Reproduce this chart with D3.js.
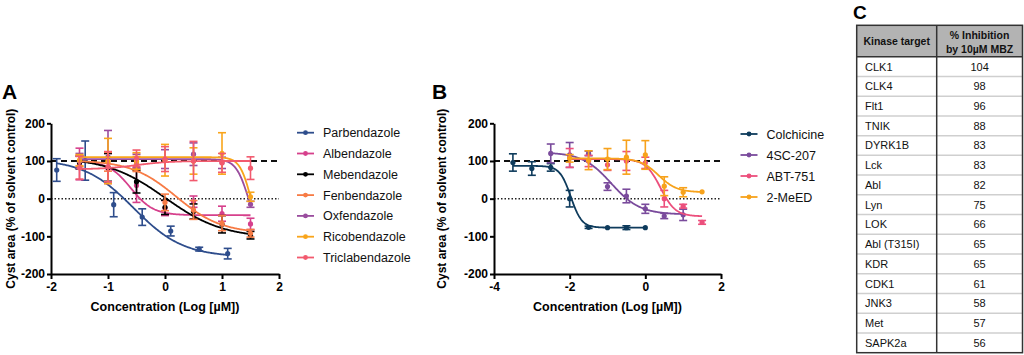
<!DOCTYPE html>
<html><head><meta charset="utf-8">
<script src="https://cdn.jsdelivr.net/npm/d3@7"></script>
<style>
body{margin:0;background:#fff;}
svg{display:block;font-family:"Liberation Sans",Arial,Helvetica,sans-serif;}
</style></head>
<body><svg id="chart" width="1024" height="355"></svg>
<script>
// ---------- Data ----------
const yTickValues = [-200, -100, 0, 100, 200];
const xTickValuesA = [-2, -1, 0, 1, 2];
const xTickValuesB = [-4, -2, 0, 2];

// Panel A series (x = log µM, y = % of solvent control, err = SD)
const seriesNamesA = ["Parbendazole","Albendazole","Mebendazole","Fenbendazole","Oxfendazole","Ricobendazole","Triclabendazole"];
const seriesColorsA = ["#2e4d8c","#d6408c","#000000","#f77b45","#9a4d9e","#f9a51b","#f25a6e"];
const doseA = [-1.5, -1, -0.5, 0, 0.5, 1, 1.5];
const parbendazoleX = [-1.9, -1.4, -0.9, -0.4, 0.1, 0.6, 1.1];
const parbendazoleY = [76, 101, -16, -49, -86, -134, -146];
const parbendazoleErr = [30, 52, 32, 22, 13, 5, 14];
const albendazoleY = [92, 80, 35, -25, -8, -40, -67];
const albendazoleErr = [42, 40, 45, 20, 15, 20, 15];
const mebendazoleY = [96, 83, 45, -23, -34, -68, -97];
const mebendazoleErr = [17, 37, 30, 19, 20, 23, 10];
const fenbendazoleY = [100, 98, 92, -10, -30, -65, -92];
const fenbendazoleErr = [15, 25, 20, 22, 25, 20, 10];
const oxfendazoleY = [100, 111, 100, 105, 118, 95, -15];
const oxfendazoleErr = [20, 70, 18, 25, 30, 15, 8];
const ricobendazoleY = [102, 100, 100, 102, 100, 120, 5];
const ricobendazoleErr = [15, 60, 22, 42, 35, 55, 12];
const triclabendazoleY = [82, 85, 107, 105, 100, 95, 81];
const triclabendazoleErr = [30, 40, 22, 33, 52, 25, 30];

// Panel A fitted curves: [value at low dose, value at high dose, logIC50, Hill slope, x start, x end]
const parbendazoleFit = [105, -155, -0.55, 1, -1.9, 1.1];
const albendazoleFit = [100, -44, -0.6, 2.2, -1.5, 1.5];
const mebendazoleFit = [110, -105, 0, 0.85, -1.5, 1.5];
const fenbendazoleFit = [102, -92, 0.2, 1.1, -1.5, 1.5];
const oxfendazoleFit = [105, -100, 1.46, 4, -1.5, 1.5];
const ricobendazoleFit = [110, -100, 1.5, 4.5, -1.5, 1.5];
const triclabendazoleFit = [78, 100, -0.5, 1.5, -1.5, 1.5];

// Panel B series
const seriesNamesB = ["Colchicine","4SC-207","ABT-751","2-MeED"];
const seriesColorsB = ["#0e3b5c","#7a4b9c","#ec4f7c","#f7a21b"];
const colchicineX = [-3.5, -3, -2.5, -2, -1.5, -1, -0.5, 0];
const colchicineY = [96, 80, 83, 0, -76, -77, -77, -77];
const colchicineErr = [23, 18, 10, 22, 3, 0, 5, 0];
const sc207X = [-2.5, -2, -1.5, -1, -0.5, 0, 0.5, 1];
const sc207Y = [120, 116, 120, 32, 7, -27, -46, -43];
const sc207Err = [25, 33, 6, 10, 18, 12, 7, 15];
const abt751X = [-2, -1.5, -1, -0.5, 0, 0.5, 1, 1.5];
const abt751Y = [108, 100, 90, 100, 95, 0, -20, -63];
const abt751Err = [25, 15, 15, 25, 15, 22, 5, 5];
const meed2X = [-2, -1.5, -1, -0.5, 0, 0.5, 1, 1.5];
const meed2Y = [107, 102, 105, 110, 116, 33, 17, 18];
const meed2Err = [10, 25, 28, 45, 38, 25, 12, 0];

const colchicineFit = [87, -77, -1.97, 3, -3.5, 0];
const sc207Fit = [123, -42, -0.9, 1.15, -2.5, 1];
const abt751Fit = [105, -47, 0.4, 2.2, -2, 1.5];
const meed2Fit = [107, 17, 0.35, 1.8, -2, 1.5];

// Panel C table
const kinaseTargets = ["CLK1","CLK4","Flt1","TNIK","DYRK1B","Lck","Abl","Lyn","LOK","Abl (T315I)","KDR","CDK1","JNK3","Met","SAPK2a"];
const inhibitionValues = [104, 98, 96, 88, 83, 83, 82, 75, 66, 65, 65, 61, 58, 57, 56];
const tableHeaders = ["Kinase target", ["% Inhibition", "by 10µM MBZ"]];

// ---------- Drawing ----------
const svg = d3.select("#chart");
const font = '"Liberation Sans",Arial,Helvetica,sans-serif';

const seriesA = [
  {x: parbendazoleX, y: parbendazoleY, e: parbendazoleErr, fit: parbendazoleFit},
  {x: doseA, y: albendazoleY, e: albendazoleErr, fit: albendazoleFit},
  {x: doseA, y: mebendazoleY, e: mebendazoleErr, fit: mebendazoleFit},
  {x: doseA, y: fenbendazoleY, e: fenbendazoleErr, fit: fenbendazoleFit},
  {x: doseA, y: oxfendazoleY, e: oxfendazoleErr, fit: oxfendazoleFit},
  {x: doseA, y: ricobendazoleY, e: ricobendazoleErr, fit: ricobendazoleFit},
  {x: doseA, y: triclabendazoleY, e: triclabendazoleErr, fit: triclabendazoleFit}
].map((s, i) => Object.assign(s, {name: seriesNamesA[i], color: seriesColorsA[i]}));

const seriesB = [
  {x: colchicineX, y: colchicineY, e: colchicineErr, fit: colchicineFit},
  {x: sc207X, y: sc207Y, e: sc207Err, fit: sc207Fit},
  {x: abt751X, y: abt751Y, e: abt751Err, fit: abt751Fit},
  {x: meed2X, y: meed2Y, e: meed2Err, fit: meed2Fit}
].map((s, i) => Object.assign(s, {name: seriesNamesB[i], color: seriesColorsB[i]}));

function fourPL(p, x) {
  const [a, d, c, h] = p;
  return d + (a - d) / (1 + Math.pow(10, (x - c) * h));
}

function drawPanel(cfg) {
  const g = svg.append("g");
  const x = d3.scaleLinear().domain(cfg.xDomain).range(cfg.xRange);
  const y = d3.scaleLinear().domain([-200, 200]).range([274, 123.3]);

  // reference lines
  g.append("line").attr("x1", x(cfg.xDomain[0])).attr("x2", x(cfg.xDomain[1]))
    .attr("y1", y(100)).attr("y2", y(100))
    .attr("stroke", "#111").attr("stroke-width", 2).attr("stroke-dasharray", "6,4");
  g.append("line").attr("x1", x(cfg.xDomain[0])).attr("x2", x(cfg.xDomain[1]))
    .attr("y1", y(0)).attr("y2", y(0))
    .attr("stroke", "#222").attr("stroke-width", 1.5).attr("stroke-dasharray", "1.5,2");

  // axes
  const yAxis = d3.axisLeft(y).tickValues(yTickValues).tickSize(4).tickSizeOuter(0).tickPadding(2)
    .tickFormat(d => String(d));
  const xAxis = d3.axisBottom(x).tickValues(cfg.xTicks).tickSize(5).tickSizeOuter(0).tickPadding(3)
    .tickFormat(d => String(d));
  const ya = g.append("g").attr("transform", `translate(${cfg.xRange[0]},0)`).call(yAxis);
  const xa = g.append("g").attr("transform", `translate(0,${y(-200)})`).call(xAxis);
  [ya, xa].forEach(a => {
    a.select(".domain").attr("stroke", "#000").attr("stroke-width", 2);
    a.selectAll(".tick line").attr("stroke", "#000").attr("stroke-width", 2);
    a.selectAll(".tick text").attr("fill", "#000").attr("font-family", font)
      .attr("font-size", 12).attr("font-weight", "bold");
  });

  // titles
  g.append("text").attr("x", (cfg.xRange[0] + cfg.xRange[1]) / 2).attr("y", 310.5)
    .attr("text-anchor", "middle").attr("font-size", 12.5).attr("font-weight", "bold")
    .attr("font-family", font).text("Concentration (Log [µM])");
  g.append("text").attr("transform", `translate(${cfg.yTitleX},${y(0)}) rotate(-90)`)
    .attr("text-anchor", "middle").attr("font-size", 12).attr("font-weight", "bold")
    .attr("font-family", font).text("Cyst area (% of solvent control)");
  g.append("text").attr("x", cfg.letterX).attr("y", 98.5).attr("font-size", 21)
    .attr("font-weight", "bold").attr("font-family", font).text(cfg.letter);

  // series
  const line = d3.line().x(d => x(d[0])).y(d => y(d[1]));
  cfg.series.forEach(s => {
    const sg = g.append("g");
    const [, , , , x0, x1] = s.fit;
    const pts = d3.range(0, 201).map(i => {
      const xv = x0 + (x1 - x0) * i / 200;
      return [xv, fourPL(s.fit, xv)];
    });
    sg.append("path").attr("d", line(pts)).attr("fill", "none")
      .attr("stroke", s.color).attr("stroke-width", 1.8);
    s.x.forEach((xv, i) => {
      const yv = s.y[i], ev = s.e[i];
      const px = x(xv);
      if (ev > 0) {
        sg.append("line").attr("x1", px).attr("x2", px).attr("y1", y(yv - ev)).attr("y2", y(yv + ev))
          .attr("stroke", s.color).attr("stroke-width", 1.6);
        [yv - ev, yv + ev].forEach(cv => {
          sg.append("line").attr("x1", px - 4).attr("x2", px + 4).attr("y1", y(cv)).attr("y2", y(cv))
            .attr("stroke", s.color).attr("stroke-width", 1.6);
        });
      }
      sg.append("circle").attr("cx", px).attr("cy", y(yv)).attr("r", 2.6).attr("fill", s.color);
    });
  });

  // legend
  const lg = g.append("g");
  cfg.series.forEach((s, i) => {
    const ly = cfg.legendY + i * cfg.legendStep;
    lg.append("line").attr("x1", cfg.legendX).attr("x2", cfg.legendX + 17).attr("y1", ly).attr("y2", ly)
      .attr("stroke", s.color).attr("stroke-width", 1.8);
    lg.append("circle").attr("cx", cfg.legendX + 8.5).attr("cy", ly).attr("r", 2.4).attr("fill", s.color);
    lg.append("text").attr("x", cfg.legendX + 26).attr("y", ly).attr("dy", "0.36em")
      .attr("font-size", 12.5).attr("font-family", font).attr("fill", "#111").text(s.name);
  });
}

drawPanel({xDomain: [-2, 2], xRange: [51, 279], xTicks: xTickValuesA, series: seriesA,
  yTitleX: 15, letterX: 2, letter: "A", legendX: 297, legendY: 132.7, legendStep: 20.8});
drawPanel({xDomain: [-4, 2], xRange: [494, 721], xTicks: xTickValuesB, series: seriesB,
  yTitleX: 446, letterX: 432, letter: "B", legendX: 740.5, legendY: 134, legendStep: 21});

// Table C
(function () {
  const g = svg.append("g");
  const left = 856.7, right = 1022.5, mid = 936.7, top = 25.3, headBottom = 56.7;
  const rowH = d3.scaleBand().domain(d3.range(kinaseTargets.length)).range([headBottom, 352.7]);
  g.append("text").attr("x", 853).attr("y", 18.5).attr("font-size", 19).attr("font-weight", "bold")
    .attr("font-family", font).text("C");
  g.append("rect").attr("x", left).attr("y", top).attr("width", right - left).attr("height", headBottom - top)
    .attr("fill", "#b3b3b3");
  // row separators
  kinaseTargets.forEach((k, i) => {
    if (i > 0) {
      g.append("line").attr("x1", left).attr("x2", right).attr("y1", rowH(i)).attr("y2", rowH(i))
        .attr("stroke", "#cfcfcf").attr("stroke-width", 1.5);
    }
    const cy = rowH(i) + rowH.bandwidth() / 2;
    g.append("text").attr("x", 865).attr("y", cy).attr("dy", "0.36em").attr("font-size", 11)
      .attr("font-family", font).attr("fill", "#111").text(k);
    g.append("text").attr("x", (mid + right) / 2).attr("y", cy).attr("dy", "0.36em").attr("font-size", 11)
      .attr("text-anchor", "middle").attr("font-family", font).attr("fill", "#111").text(inhibitionValues[i]);
  });
  g.append("line").attr("x1", left).attr("x2", right).attr("y1", headBottom).attr("y2", headBottom)
    .attr("stroke", "#333").attr("stroke-width", 1.5);
  g.append("line").attr("x1", mid).attr("x2", mid).attr("y1", top).attr("y2", 352.7)
    .attr("stroke", "#333").attr("stroke-width", 1.5);
  g.append("rect").attr("x", left).attr("y", top).attr("width", right - left).attr("height", 352.7 - top)
    .attr("fill", "none").attr("stroke", "#333").attr("stroke-width", 1.5);
  g.append("text").attr("x", (left + mid) / 2).attr("y", (top + headBottom) / 2).attr("dy", "0.36em")
    .attr("text-anchor", "middle").attr("font-size", 10.5).attr("font-weight", "bold")
    .attr("font-family", font).attr("fill", "#111").text(tableHeaders[0]);
  tableHeaders[1].forEach((t, i) => {
    g.append("text").attr("x", (mid + right) / 2).attr("y", 35.5 + i * 13.5).attr("dy", "0.36em")
      .attr("text-anchor", "middle").attr("font-size", 10.5).attr("font-weight", "bold")
      .attr("font-family", font).attr("fill", "#111").text(t);
  });
})();
</script></body></html>
